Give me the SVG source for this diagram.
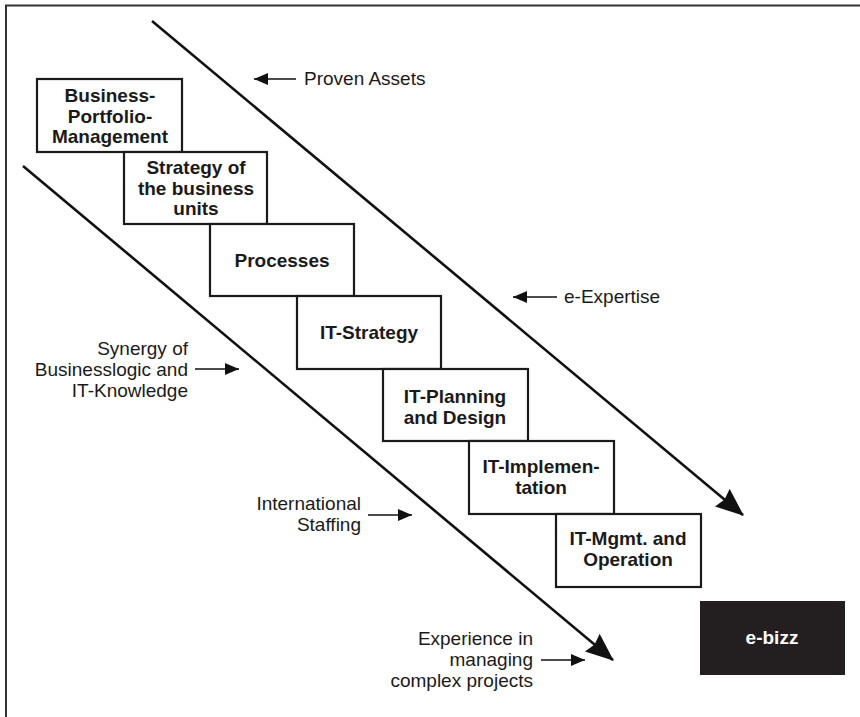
<svg xmlns="http://www.w3.org/2000/svg" width="860" height="717" viewBox="0 0 860 717">
<defs>
<marker id="bigArrow" markerUnits="userSpaceOnUse" viewBox="0 0 28 23" markerWidth="28" markerHeight="23" refX="27" refY="11.5" orient="auto">
<path d="M0,0 L28,11.5 L0,23 L3,11.5 z" fill="#111"/>
</marker>
<marker id="smallArrow" markerUnits="userSpaceOnUse" viewBox="0 0 14 12" markerWidth="14" markerHeight="12" refX="14" refY="6" orient="auto">
<path d="M0,0 L14,6 L0,12 z" fill="#111"/>
</marker>
<style>
.box{fill:#fff;stroke:#1a1a1a;stroke-width:2.2}
.bt{font-family:"Liberation Sans",Arial,sans-serif;font-weight:bold;font-size:19px;fill:#1a1a1a;text-anchor:middle}
.lt{font-family:"Liberation Sans",Arial,sans-serif;font-size:19px;fill:#1a1a1a}
.r{text-anchor:end}
.big{stroke:#111;stroke-width:2.6;fill:none;marker-end:url(#bigArrow)}
.sm{stroke:#111;stroke-width:1.7;fill:none;marker-end:url(#smallArrow)}
.frame{stroke:#333;stroke-width:2;fill:none}
</style>
</defs>
<rect width="860" height="717" fill="#fff"/>
<path class="frame" d="M6,717 L6,5.5 L860,5.5"/>

<g id="connectors">
<line class="big" x1="152" y1="21" x2="743" y2="515"/>
<line class="big" x1="23" y1="166" x2="613" y2="660"/>
<line class="sm" x1="296" y1="79" x2="254" y2="79"/>
<line class="sm" x1="557" y1="297" x2="513" y2="297"/>
<line class="sm" x1="195" y1="369" x2="239" y2="369"/>
<line class="sm" x1="368" y1="515" x2="412" y2="515"/>
<line class="sm" x1="541" y1="660" x2="585" y2="660"/>
</g>

<g id="n1">
<rect class="box" x="37" y="79" width="145" height="73"/>
<text class="bt" x="110" y="102">Business-</text>
<text class="bt" x="110" y="123">Portfolio-</text>
<text class="bt" x="110" y="143">Management</text>
</g>
<g id="n2">
<rect class="box" x="124" y="152" width="143" height="72"/>
<text class="bt" x="196" y="174">Strategy of</text>
<text class="bt" x="196" y="195">the business</text>
<text class="bt" x="196" y="215">units</text>
</g>
<g id="n3">
<rect class="box" x="210" y="224" width="144" height="72"/>
<text class="bt" x="282" y="267">Processes</text>
</g>
<g id="n4">
<rect class="box" x="297" y="296" width="144" height="73"/>
<text class="bt" x="369" y="339">IT-Strategy</text>
</g>
<g id="n5">
<rect class="box" x="383" y="369" width="145" height="72"/>
<text class="bt" x="455" y="403">IT-Planning</text>
<text class="bt" x="455" y="424">and Design</text>
</g>
<g id="n6">
<rect class="box" x="469" y="441" width="145" height="73"/>
<text class="bt" x="541" y="473">IT-Implemen-</text>
<text class="bt" x="541" y="494">tation</text>
</g>
<g id="n7">
<rect class="box" x="556" y="514" width="145" height="73"/>
<text class="bt" x="628" y="545">IT-Mgmt. and</text>
<text class="bt" x="628" y="566">Operation</text>
</g>
<g id="ebizz">
<rect x="700" y="601" width="145" height="74" fill="#231f20"/>
<text class="bt" x="772" y="644" style="fill:#fff">e-bizz</text>
</g>

<g id="labels">
<text class="lt" x="304" y="85">Proven Assets</text>
<text class="lt" x="564" y="303">e-Expertise</text>
<text class="lt r" x="188" y="355">Synergy of</text>
<text class="lt r" x="188" y="376">Businesslogic and</text>
<text class="lt r" x="188" y="397">IT-Knowledge</text>
<text class="lt r" x="361" y="510">International</text>
<text class="lt r" x="361" y="531">Staffing</text>
<text class="lt r" x="533" y="645">Experience in</text>
<text class="lt r" x="533" y="666">managing</text>
<text class="lt r" x="533" y="687">complex projects</text>
</g>
</svg>
